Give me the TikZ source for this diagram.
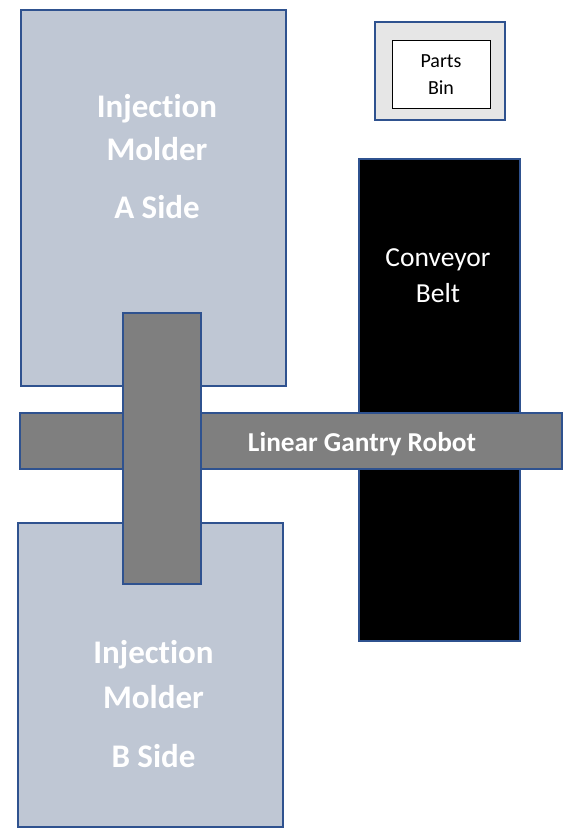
\documentclass[tikz,border=0pt]{standalone}
\usepackage{fontspec}
\setmainfont{Carlito}[Ligatures=NoCommon]
\definecolor{molderfill}{HTML}{BFC7D4}
\definecolor{edgeblue}{HTML}{2F528F}
\definecolor{gantryfill}{HTML}{7F7F7F}
\definecolor{binfill}{HTML}{E6E6E6}
\tikzset{
  box/.style={draw=edgeblue, line width=1.8pt, rectangle, inner sep=0pt, minimum width=#1},
  molder/.style={box=#1, fill=molderfill},
  gantry/.style={box=#1, fill=gantryfill},
  bigtxt/.style={text=white, font=\fontsize{33}{39}\selectfont\bfseries, anchor=base, inner sep=0pt},
  robtxt/.style={text=white, font=\fontsize{27.3}{32}\selectfont\bfseries, anchor=base, inner sep=0pt},
  convtxt/.style={text=white, font=\fontsize{27.5}{33}\selectfont, anchor=base, inner sep=0pt},
  bintxt/.style={text=black, font=\fontsize{20}{24}\selectfont, anchor=base, inner sep=0pt}
}
\begin{document}
\begin{tikzpicture}[x=1pt,y=-1pt]
\useasboundingbox (0,0) rectangle (573,839);
% molders
\node[molder=265pt, minimum height=376pt] (moldA) at (153.5,198) {};
\node[molder=265pt, minimum height=304pt] (moldB) at (150.5,675) {};
% conveyor
\node[box=161pt, minimum height=482pt, fill=black] (conv) at (439.5,400) {};
% parts bin
\node[box=130pt, minimum height=98pt, fill=binfill] (binout) at (440,71) {};
\node[draw=black, line width=1pt, fill=white, minimum width=98pt, minimum height=68pt, inner sep=0pt] (binin) at (441,74) {};
% gantry
\node[gantry=542pt, minimum height=56pt] (hgan) at (291,441) {};
\node[gantry=78pt, minimum height=271pt] (vgan) at (162,448.5) {};
% texts
\node[bigtxt] (a1) at (157,117) {Injection};
\node[bigtxt] (a2) at (157,160) {Molder};
\node[bigtxt] (a3) at (157,218) {A Side};
\node[bigtxt] (b1) at (153.5,663) {Injection};
\node[bigtxt] (b2) at (153.5,708) {Molder};
\node[bigtxt] (b3) at (153.5,767) {B Side};
\node[robtxt] (rob) at (362,451) {Linear Gantry Robot};
\node[convtxt] (c1) at (438,266) {Conveyor};
\node[convtxt] (c2) at (438,302) {Belt};
\node[bintxt] (p1) at (441,67) {Parts};
\node[bintxt] (p2) at (441,94) {Bin};
\end{tikzpicture}
\end{document}
